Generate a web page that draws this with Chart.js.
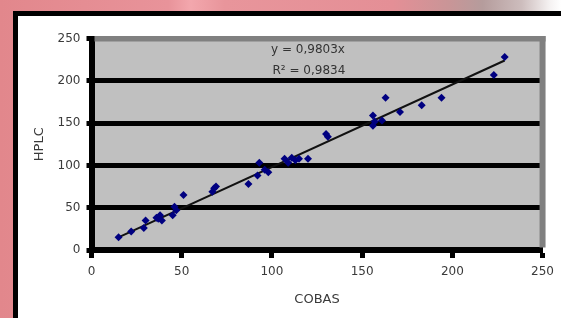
<!DOCTYPE html>
<html>
<head>
<meta charset="utf-8">
<script src="https://cdn.jsdelivr.net/npm/chart.js@4"></script>
<style>
  html { margin: 0; padding: 0; overflow: hidden; width: 561px; height: 318px; }
  body {
    margin: 0; padding: 0;
    width: 561px; height: 318px; position: relative; overflow: hidden;
    background: linear-gradient(90deg, #e2878c 0%, #e8939a 30%, #f3a7ad 34%, #e8959b 40%, #e48f96 70%, #c99597 80%, #b59c9c 86%, #cdbdbd 93%, #f5f2f2 98%, #fff 100%);
  }
  #panel {
    position: absolute; left: 13px; top: 11px; right: -20px; bottom: -20px;
    background: #fff; border-left: 5px solid #000; border-top: 5px solid #000;
  }
  #grafico { position: absolute; left: 0; top: 0; }
</style>
</head>
<body>
<div id="panel"></div>
<canvas id="grafico" width="561" height="318"></canvas>
<script>
// valores
const cobas = [15, 22, 29, 30, 36, 38, 39, 37, 45, 46, 47, 51, 67, 68, 69, 87, 92, 93, 96, 98,
               107, 109, 111, 113, 115, 120, 130, 131, 156, 156, 157, 161, 163, 171, 183, 194, 223, 229];
const hplc  = [15, 22, 26, 35, 38, 41, 35, 37, 41, 51, 47, 65, 69, 73, 75, 78, 88, 103, 95, 92,
               108, 103, 109, 106, 108, 108, 137, 134, 159, 147, 152, 153, 180, 163, 171, 180, 207, 228];

// linea de tendencia (extremos)
const tendenciaX = [14, 229];
const tendenciaY = [14, 224];
const tendenciaTexto = ['y = 0,9803x', 'R\u00b2 = 0,9834'];

const ticksX = [0, 50, 100, 150, 200, 250];
const ticksY = [0, 50, 100, 150, 200, 250];

let puntos = cobas.map((c, i) => ({ x: c, y: hplc[i] }));
let tendencia = tendenciaX.map((c, i) => ({ x: c, y: tendenciaY[i] }));

const marco = {
    id: 'marco',
    beforeDraw(chart) {
        const { ctx, chartArea: a } = chart;
        ctx.save();
        ctx.fillStyle = '#c0c0c0';
        ctx.fillRect(a.left, a.top, a.right - a.left, a.bottom - a.top);
        ctx.restore();
    },
    beforeDatasetsDraw(chart) {
        const { ctx, chartArea: a } = chart;
        ctx.save();
        ctx.fillStyle = '#808080';
        ctx.fillRect(a.left + 3, a.top - 2.5, a.right - a.left, 5.5);
        ctx.fillRect(a.right - 3, a.top - 2.5, 6, a.bottom - a.top);
        ctx.restore();
    },
    afterDatasetsDraw(chart) {
        const { ctx, scales } = chart;
        ctx.save();
        ctx.font = '12px "DejaVu Sans"';
        ctx.fillStyle = '#333';
        ctx.textAlign = 'center';
        ctx.textBaseline = 'middle';
        ctx.fillText(tendenciaTexto[0], scales.x.getPixelForValue(120), scales.y.getPixelForValue(237));
        ctx.fillText(tendenciaTexto[1], scales.x.getPixelForValue(120.5), scales.y.getPixelForValue(212));
        ctx.restore();
    }
};

let ctx = document.getElementById('grafico');
let myChart = new Chart(ctx, {
    type: 'scatter',
    data: {
        datasets: [{
            label: 'HPLC',
            data: puntos,
            pointStyle: 'rectRot',
            pointRadius: 4,
            backgroundColor: '#000080',
            borderColor: '#000080',
            borderWidth: 0
        }, {
            type: 'line',
            label: 'Tendencia',
            data: tendencia,
            borderColor: '#111',
            borderWidth: 2,
            pointRadius: 0,
            fill: false
        }]
    },
    options: {
        responsive: false,
        animation: false,
        devicePixelRatio: 1,
        layout: { padding: { top: 38.5, right: 16, bottom: 0, left: 0 } },
        plugins: { legend: { display: false }, tooltip: { enabled: false } },
        scales: {
            x: {
                type: 'linear',
                min: ticksX[0],
                max: ticksX[ticksX.length - 1],
                afterFit: s => { s.height = 68; },
                afterBuildTicks: s => { s.ticks = ticksX.map(v => ({ value: v })); },
                ticks: { color: '#3a3a3a', font: { family: 'DejaVu Sans', size: 12 }, padding: 7, maxRotation: 0 },
                grid: { drawOnChartArea: false, tickLength: 8, tickWidth: 5, tickColor: '#000' },
                border: { display: true, color: '#000', width: 6 },
                title: { display: true, text: 'COBAS', color: '#3a3a3a', font: { family: 'DejaVu Sans', size: 13 }, padding: { top: 0, bottom: 11 } }
            },
            y: {
                type: 'linear',
                min: ticksY[0],
                max: ticksY[ticksY.length - 1],
                afterFit: s => { s.width = 91.5; },
                afterBuildTicks: s => { s.ticks = ticksY.map(v => ({ value: v })); },
                ticks: { color: '#3a3a3a', font: { family: 'DejaVu Sans', size: 12 }, padding: 6 },
                grid: {
                    color: c => (c.tick && c.tick.value === ticksY[ticksY.length - 1]) ? 'rgba(0,0,0,0)' : '#000',
                    lineWidth: 5, tickLength: 5, tickWidth: 5, tickColor: '#000'
                },
                border: { display: true, color: '#000', width: 6 },
                title: { display: true, text: 'HPLC', color: '#3a3a3a', font: { family: 'DejaVu Sans', size: 13 }, padding: { top: 32, bottom: 0 } }
            }
        }
    },
    plugins: [marco]
});
</script>
</body>
</html>
